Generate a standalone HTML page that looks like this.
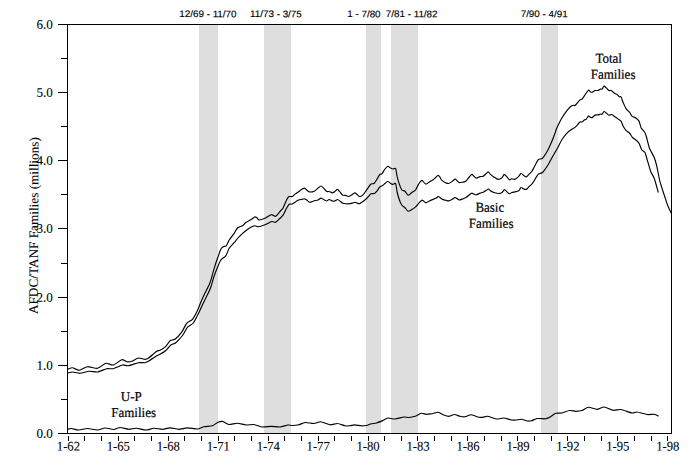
<!DOCTYPE html>
<html><head><meta charset="utf-8"><title>AFDC/TANF Families</title>
<style>
html,body{margin:0;padding:0;background:#fff;}
body{width:696px;height:468px;overflow:hidden;}
svg{display:block;}
.s{font-family:"Liberation Serif",serif;font-size:13.1px;fill:#000;stroke:#000;stroke-width:0.2px;}
.d{font-family:"Liberation Serif",serif;font-size:13.1px;fill:#000;stroke:#000;stroke-width:0.08px;}
.a{font-family:"Liberation Sans",sans-serif;font-size:10px;fill:#000;stroke:#000;stroke-width:0.15px;}
</style></head><body>
<svg width="696" height="468" viewBox="0 0 696 468">
<rect x="0" y="0" width="696" height="468" fill="#fff"/>
<rect x="199" y="25" width="19" height="408" fill="#dedede" shape-rendering="crispEdges"/>
<rect x="264" y="25" width="27" height="408" fill="#dedede" shape-rendering="crispEdges"/>
<rect x="366" y="25" width="15" height="408" fill="#dedede" shape-rendering="crispEdges"/>
<rect x="391" y="25" width="27" height="408" fill="#dedede" shape-rendering="crispEdges"/>
<rect x="541" y="25" width="17" height="408" fill="#dedede" shape-rendering="crispEdges"/>
<g fill="#000" shape-rendering="crispEdges">
<rect x="67" y="24" width="605" height="1"/><rect x="67" y="433" width="605" height="1"/>
<rect x="67" y="24" width="1" height="410"/><rect x="671" y="24" width="1" height="410"/>
<rect x="58" y="433" width="9" height="1"/>
<rect x="61" y="399" width="6" height="1"/>
<rect x="58" y="365" width="9" height="1"/>
<rect x="61" y="331" width="6" height="1"/>
<rect x="58" y="297" width="9" height="1"/>
<rect x="61" y="263" width="6" height="1"/>
<rect x="58" y="228" width="9" height="1"/>
<rect x="61" y="194" width="6" height="1"/>
<rect x="58" y="160" width="9" height="1"/>
<rect x="61" y="126" width="6" height="1"/>
<rect x="58" y="92" width="9" height="1"/>
<rect x="61" y="58" width="6" height="1"/>
<rect x="58" y="24" width="9" height="1"/>
<rect x="68" y="436" width="1" height="5"/>
<rect x="84" y="436" width="1" height="5"/>
<rect x="101" y="436" width="1" height="5"/>
<rect x="118" y="436" width="1" height="5"/>
<rect x="134" y="436" width="1" height="5"/>
<rect x="151" y="436" width="1" height="5"/>
<rect x="168" y="436" width="1" height="5"/>
<rect x="184" y="436" width="1" height="5"/>
<rect x="201" y="436" width="1" height="5"/>
<rect x="218" y="436" width="1" height="5"/>
<rect x="234" y="436" width="1" height="5"/>
<rect x="251" y="436" width="1" height="5"/>
<rect x="268" y="436" width="1" height="5"/>
<rect x="284" y="436" width="1" height="5"/>
<rect x="301" y="436" width="1" height="5"/>
<rect x="318" y="436" width="1" height="5"/>
<rect x="334" y="436" width="1" height="5"/>
<rect x="351" y="436" width="1" height="5"/>
<rect x="368" y="436" width="1" height="5"/>
<rect x="384" y="436" width="1" height="5"/>
<rect x="401" y="436" width="1" height="5"/>
<rect x="417" y="436" width="1" height="5"/>
<rect x="434" y="436" width="1" height="5"/>
<rect x="451" y="436" width="1" height="5"/>
<rect x="467" y="436" width="1" height="5"/>
<rect x="484" y="436" width="1" height="5"/>
<rect x="501" y="436" width="1" height="5"/>
<rect x="517" y="436" width="1" height="5"/>
<rect x="534" y="436" width="1" height="5"/>
<rect x="551" y="436" width="1" height="5"/>
<rect x="567" y="436" width="1" height="5"/>
<rect x="584" y="436" width="1" height="5"/>
<rect x="601" y="436" width="1" height="5"/>
<rect x="617" y="436" width="1" height="5"/>
<rect x="634" y="436" width="1" height="5"/>
<rect x="651" y="436" width="1" height="5"/>
<rect x="667" y="436" width="1" height="5"/>
</g>
<text class="d" transform="translate(52.80,437.90) rotate(0.25) scale(1.0,1.0)" text-anchor="end">0.0</text>
<text class="d" transform="translate(52.80,369.90) rotate(0.25) scale(1.0,1.0)" text-anchor="end">1.0</text>
<text class="d" transform="translate(52.80,301.90) rotate(0.25) scale(1.0,1.0)" text-anchor="end">2.0</text>
<text class="d" transform="translate(52.80,232.90) rotate(0.25) scale(1.0,1.0)" text-anchor="end">3.0</text>
<text class="d" transform="translate(52.80,164.90) rotate(0.25) scale(1.0,1.0)" text-anchor="end">4.0</text>
<text class="d" transform="translate(52.80,96.90) rotate(0.25) scale(1.0,1.0)" text-anchor="end">5.0</text>
<text class="d" transform="translate(52.80,28.90) rotate(0.25) scale(1.0,1.0)" text-anchor="end">6.0</text>
<text class="d" transform="translate(68.40,450.60) rotate(0.25) scale(0.965,1.0)" text-anchor="middle">1-62</text>
<text class="d" transform="translate(118.35,450.60) rotate(0.25) scale(0.965,1.0)" text-anchor="middle">1-65</text>
<text class="d" transform="translate(168.30,450.60) rotate(0.25) scale(0.965,1.0)" text-anchor="middle">1-68</text>
<text class="d" transform="translate(218.25,450.60) rotate(0.25) scale(0.965,1.0)" text-anchor="middle">1-71</text>
<text class="d" transform="translate(268.20,450.60) rotate(0.25) scale(0.965,1.0)" text-anchor="middle">1-74</text>
<text class="d" transform="translate(318.15,450.60) rotate(0.25) scale(0.965,1.0)" text-anchor="middle">1-77</text>
<text class="d" transform="translate(368.10,450.60) rotate(0.25) scale(0.965,1.0)" text-anchor="middle">1-80</text>
<text class="d" transform="translate(418.05,450.60) rotate(0.25) scale(0.965,1.0)" text-anchor="middle">1-83</text>
<text class="d" transform="translate(468.00,450.60) rotate(0.25) scale(0.965,1.0)" text-anchor="middle">1-86</text>
<text class="d" transform="translate(517.95,450.60) rotate(0.25) scale(0.965,1.0)" text-anchor="middle">1-89</text>
<text class="d" transform="translate(567.90,450.60) rotate(0.25) scale(0.965,1.0)" text-anchor="middle">1-92</text>
<text class="d" transform="translate(617.85,450.60) rotate(0.25) scale(0.965,1.0)" text-anchor="middle">1-95</text>
<text class="d" transform="translate(667.80,450.60) rotate(0.25) scale(0.965,1.0)" text-anchor="middle">1-98</text>
<text class="a" transform="translate(207.90,17.15) rotate(0.2) scale(0.985,0.95)" text-anchor="middle">12/69 - 11/70</text>
<text class="a" transform="translate(275.90,17.15) rotate(0.2) scale(0.985,0.95)" text-anchor="middle">11/73 - 3/75</text>
<text class="a" transform="translate(363.90,17.15) rotate(0.2) scale(0.985,0.95)" text-anchor="middle">1 - 7/80</text>
<text class="a" transform="translate(411.65,17.15) rotate(0.2) scale(0.985,0.95)" text-anchor="middle">7/81 - 11/82</text>
<text class="a" transform="translate(544.15,17.15) rotate(0.2) scale(0.985,0.95)" text-anchor="middle">7/90 - 4/91</text>
<text class="d" transform="translate(38.10,225.60) rotate(-89.75) scale(1.012,1.0)" text-anchor="middle">AFDC/TANF Families (millions)</text>
<text class="s" transform="translate(608.65,62.80) rotate(0.25) scale(0.99,1.04)" text-anchor="middle">Total</text>
<text class="s" transform="translate(613.10,78.80) rotate(0.25) scale(0.99,1.04)" text-anchor="middle">Families</text>
<text class="s" transform="translate(489.80,211.70) rotate(0.25) scale(0.99,1.04)" text-anchor="middle">Basic</text>
<text class="s" transform="translate(491.10,227.80) rotate(0.25) scale(0.99,1.04)" text-anchor="middle">Families</text>
<text class="s" transform="translate(131.25,401.00) rotate(0.25) scale(0.99,1.04)" text-anchor="middle">U-P</text>
<text class="s" transform="translate(133.62,417.00) rotate(0.25) scale(0.99,1.04)" text-anchor="middle">Families</text>
<g fill="none" stroke="#000" stroke-width="1.15" stroke-linejoin="round" stroke-linecap="butt">
<path d="M68.0,369.2C68.5,369.0 71.2,367.7 72.5,367.8C73.8,367.9 77.5,370.4 79.2,370.3C81.0,370.2 85.4,366.9 87.5,366.7C89.6,366.5 95.4,368.7 97.5,368.3C99.6,367.9 104.0,363.7 105.8,363.3C107.6,362.9 111.4,365.4 113.3,365.0C115.2,364.6 120.1,360.1 121.7,359.7C123.3,359.3 125.5,361.5 126.7,361.7C127.9,361.9 130.3,361.7 131.7,361.3C133.1,360.9 136.7,358.2 138.3,358.0C139.9,357.8 143.8,359.3 145.0,359.3C146.2,359.3 146.9,359.2 148.3,358.3C149.7,357.4 155.3,352.2 156.7,351.3C158.1,350.4 158.9,350.9 160.0,350.3C161.1,349.7 164.6,347.4 165.8,346.3C167.0,345.2 169.2,341.3 170.3,340.5C171.4,339.7 173.7,340.3 175.0,339.3C176.3,338.3 180.3,334.1 181.7,332.2C183.1,330.3 185.4,324.8 186.7,323.3C188.0,321.8 191.2,320.8 192.5,319.3C193.8,317.8 196.5,312.5 197.5,310.5C198.5,308.5 199.9,304.2 200.8,302.2C201.7,300.2 204.0,295.0 205.0,293.0C206.0,291.0 208.4,286.4 209.2,284.7C210.0,282.9 210.9,279.9 211.5,278.0C212.1,276.1 213.5,270.6 214.2,268.3C214.9,266.0 216.7,260.5 217.5,258.3C218.3,256.1 220.1,250.6 220.8,249.2C221.5,247.8 222.7,247.1 223.3,246.7C223.9,246.3 225.6,246.6 226.3,245.8C227.0,245.0 228.3,241.5 229.2,240.0C230.1,238.5 233.2,234.7 234.2,233.3C235.2,231.9 236.5,228.9 237.5,228.0C238.5,227.1 241.5,226.4 242.5,225.8C243.5,225.2 244.8,223.2 245.8,222.5C246.8,221.8 249.8,220.3 250.8,219.7C251.8,219.1 254.0,217.3 254.7,217.0C255.4,216.7 256.2,217.2 256.7,217.5C257.2,217.8 258.2,219.9 259.2,220.0C260.2,220.1 263.6,218.9 265.0,218.3C266.4,217.7 270.0,214.9 271.3,214.7C272.6,214.5 274.7,216.8 275.8,216.3C276.9,215.8 280.0,211.4 280.8,210.5C281.6,209.6 282.4,209.3 283.0,208.2C283.6,207.1 285.4,202.3 286.1,201.0C286.8,199.7 287.9,197.2 288.6,196.7C289.3,196.2 291.6,196.8 292.4,196.5C293.2,196.2 294.8,194.2 295.5,193.8C296.2,193.3 297.3,192.7 298.0,192.2C298.7,191.8 300.4,190.2 301.1,189.8C301.8,189.3 303.6,188.1 304.2,188.1C304.9,188.1 306.2,189.6 306.8,190.0C307.3,190.4 308.4,191.8 309.2,191.9C310.1,192.0 313.2,191.7 314.2,191.2C315.3,190.8 317.2,188.7 318.0,188.1C318.8,187.5 320.4,186.0 321.1,186.0C321.8,186.0 322.9,187.5 323.6,188.1C324.3,188.7 326.1,191.1 326.8,191.5C327.4,191.9 328.6,191.3 329.2,191.5C329.9,191.7 331.7,192.9 332.4,192.9C333.1,192.9 334.3,191.9 334.9,191.5C335.5,191.1 336.8,189.4 337.4,189.4C338.0,189.4 339.3,191.2 339.9,191.9C340.5,192.6 341.7,194.6 342.4,195.0C343.1,195.4 344.8,195.2 345.5,195.4C346.2,195.6 347.9,196.6 348.6,196.5C349.3,196.4 351.0,195.2 351.8,194.8C352.5,194.3 354.2,192.9 354.9,192.9C355.6,192.9 356.9,194.3 357.4,194.8C357.9,195.2 358.9,196.4 359.5,196.5C360.1,196.6 361.8,195.9 362.4,195.4C363.0,194.9 364.2,193.4 364.9,192.5C365.6,191.6 367.4,188.7 368.1,187.8C368.8,186.8 370.3,184.5 371.0,184.0C371.7,183.5 373.3,184.0 374.0,183.5C374.7,183.0 376.2,180.5 376.9,179.4C377.6,178.3 379.2,175.1 379.8,174.4C380.3,173.7 381.3,174.4 381.9,173.8C382.5,173.1 384.3,169.9 385.0,169.0C385.7,168.1 387.1,166.4 387.8,166.2C388.4,166.1 390.0,167.8 390.6,168.1C391.2,168.4 392.5,169.0 393.1,169.0C393.7,169.0 395.1,167.6 395.6,168.5C396.1,169.4 396.8,175.0 397.2,176.9C397.7,178.8 398.9,182.9 399.4,184.4C399.9,185.9 401.3,189.2 401.9,190.0C402.5,190.8 404.0,190.4 404.8,191.0C405.5,191.6 407.3,195.1 408.1,195.2C408.9,195.4 411.0,193.1 411.9,192.5C412.8,191.9 414.8,190.8 415.6,189.8C416.4,188.7 418.0,184.8 418.8,183.8C419.5,182.7 421.3,180.6 421.9,180.4C422.5,180.2 423.3,181.8 423.8,182.2C424.2,182.7 425.3,184.1 426.0,184.1C426.7,184.1 428.6,182.4 429.4,181.9C430.2,181.4 432.4,180.3 433.1,179.8C433.8,179.2 435.0,178.0 435.6,177.5C436.2,177.0 437.6,175.4 438.1,175.4C438.6,175.4 439.6,176.7 440.0,177.2C440.4,177.8 441.2,179.8 441.9,180.4C442.6,181.0 444.8,182.4 445.6,182.8C446.4,183.1 447.9,183.7 448.8,183.5C449.6,183.3 451.9,181.5 452.6,181.0C453.3,180.5 454.6,179.1 455.1,179.1C455.6,179.1 456.6,180.2 457.0,180.6C457.4,181.0 458.3,182.3 458.9,182.5C459.5,182.7 461.2,182.4 462.0,182.2C462.8,182.1 464.9,181.8 465.8,181.2C466.6,180.7 468.2,178.3 468.9,177.5C469.6,176.7 471.2,174.5 471.8,174.4C472.3,174.3 473.4,175.8 473.9,176.2C474.4,176.7 475.7,178.1 476.4,178.1C477.1,178.1 479.3,176.8 480.1,176.6C480.9,176.4 482.6,176.6 483.2,176.2C483.9,175.9 485.4,174.3 486.0,173.8C486.6,173.2 487.7,171.8 488.2,171.9C488.8,172.0 489.8,173.8 490.5,174.4C491.2,175.0 493.0,176.3 493.9,176.9C494.8,177.5 497.3,179.3 498.2,179.4C499.2,179.5 501.3,178.3 502.0,177.8C502.7,177.2 503.7,174.5 504.2,174.4C504.8,174.3 506.4,176.2 507.0,176.9C507.6,177.6 509.0,179.8 509.5,180.0C510.0,180.2 510.8,178.8 511.4,178.8C512.0,178.7 513.7,179.6 514.5,179.4C515.3,179.2 517.5,177.6 518.2,176.9C519.0,176.2 520.3,173.7 521.0,173.5C521.7,173.3 523.3,175.2 523.9,175.6C524.5,176.0 525.7,177.1 526.4,176.9C527.1,176.7 528.8,174.4 529.5,173.8C530.2,173.1 531.5,172.0 532.0,171.2C532.5,170.5 533.3,168.8 534.0,167.5C534.7,166.2 537.3,160.8 538.3,159.7C539.3,158.6 541.4,159.3 542.5,158.3C543.6,157.3 546.4,152.7 547.5,150.8C548.6,148.9 550.8,143.7 551.7,141.7C552.6,139.7 554.4,134.9 555.0,133.3C555.6,131.7 555.9,130.1 556.7,128.3C557.5,126.6 560.5,120.3 561.7,118.3C562.9,116.3 565.5,112.3 566.7,110.8C567.9,109.3 570.8,106.4 571.7,105.8C572.6,105.2 573.8,105.3 574.2,105.3C574.6,105.3 574.3,106.1 575.0,105.5C575.7,104.9 579.2,100.6 580.0,99.9C580.8,99.2 581.3,99.8 581.9,99.2C582.5,98.7 584.2,96.0 585.0,94.9C585.8,93.9 587.8,90.6 588.5,90.2C589.2,89.9 590.1,91.8 590.6,92.0C591.1,92.2 592.0,92.3 592.5,92.1C593.0,91.9 594.3,90.7 595.0,90.5C595.7,90.3 597.4,90.7 598.1,90.5C598.8,90.3 600.1,89.2 600.6,89.0C601.1,88.8 601.9,89.3 602.2,89.0C602.6,88.7 603.5,86.2 604.0,86.1C604.5,86.0 605.7,87.2 606.2,87.8C606.8,88.3 608.2,90.2 608.8,90.5C609.3,90.8 610.5,90.1 611.2,90.5C612.0,90.9 614.3,93.2 615.0,93.6C615.7,94.0 616.4,93.9 616.9,94.2C617.4,94.6 618.9,96.5 619.4,96.8C619.9,97.0 620.6,96.1 621.0,96.8C621.4,97.4 622.5,101.0 623.1,102.4C623.7,103.8 625.2,107.4 626.0,108.6C626.8,109.8 629.3,111.9 630.0,112.8C630.7,113.6 631.2,115.5 631.9,116.1C632.6,116.7 635.4,117.7 636.2,118.2C637.1,118.8 638.4,120.0 639.0,121.1C639.6,122.2 640.6,126.8 641.2,128.0C641.9,129.2 643.8,130.8 644.4,131.8C645.0,132.7 645.7,134.2 646.2,136.0C646.8,137.8 648.3,145.0 649.2,147.5C650.1,150.0 653.3,155.4 654.2,157.5C655.1,159.6 656.0,163.0 656.7,165.8C657.4,168.6 659.1,178.3 660.0,181.7C660.9,185.1 663.3,192.3 664.2,195.0C665.1,197.7 666.7,202.9 667.5,205.0C668.3,207.1 670.9,212.3 671.3,213.3"/>
<path d="M68.0,373.0C68.5,372.9 71.1,372.0 72.5,372.0C73.9,372.0 78.1,373.4 80.0,373.3C81.9,373.2 87.2,371.5 89.2,371.3C91.2,371.1 95.5,372.3 97.5,372.0C99.5,371.7 104.9,369.1 106.7,368.7C108.5,368.3 111.5,369.1 113.3,368.7C115.1,368.3 120.8,365.4 122.5,365.0C124.2,364.6 126.5,366.0 128.3,365.7C130.1,365.4 136.4,363.1 138.3,362.7C140.2,362.3 143.6,363.0 145.0,362.7C146.4,362.4 148.6,361.1 150.0,360.3C151.4,359.5 155.5,356.5 156.7,355.8C157.9,355.1 158.9,354.9 160.0,354.3C161.1,353.7 164.5,351.6 165.8,350.5C167.1,349.4 169.6,345.9 170.8,345.0C172.0,344.1 174.4,343.8 175.8,342.7C177.2,341.6 181.1,337.3 182.5,335.5C183.9,333.7 186.2,328.7 187.5,327.2C188.8,325.7 192.0,324.6 193.3,323.0C194.6,321.4 197.2,315.9 198.3,313.8C199.4,311.7 201.5,306.7 202.5,304.7C203.5,302.7 205.7,298.3 206.7,296.3C207.7,294.3 210.0,289.3 210.8,287.2C211.6,285.1 212.8,280.1 213.5,278.0C214.2,275.9 215.8,271.3 216.7,269.2C217.6,267.1 219.7,261.6 220.8,260.0C221.9,258.4 224.8,257.2 225.8,255.8C226.8,254.4 228.2,249.9 229.2,248.3C230.2,246.7 233.0,243.9 234.2,242.5C235.4,241.1 237.7,238.2 239.2,236.7C240.7,235.2 244.9,231.3 246.7,230.0C248.4,228.7 252.8,226.2 254.2,225.8C255.6,225.4 257.0,226.8 258.3,226.7C259.6,226.6 263.4,225.3 265.0,224.7C266.6,224.1 270.5,221.8 271.7,221.5C272.9,221.2 274.6,222.6 275.5,222.3C276.4,222.0 278.7,219.6 279.6,218.8C280.5,218.0 282.2,216.3 283.0,215.2C283.8,214.1 285.4,210.3 286.1,209.0C286.8,207.7 288.5,204.8 289.2,204.2C290.0,203.6 291.7,204.3 292.4,204.0C293.1,203.7 294.8,202.3 295.5,201.9C296.2,201.5 297.3,200.5 298.0,200.2C298.7,200.0 300.3,199.7 301.1,199.5C301.9,199.3 303.8,198.7 304.5,198.8C305.2,198.8 306.2,199.6 306.8,200.0C307.3,200.4 308.7,202.1 309.5,202.2C310.3,202.4 312.6,201.3 313.6,201.0C314.6,200.7 317.1,200.3 318.0,200.0C318.9,199.7 320.4,198.1 321.1,198.1C321.8,198.1 323.6,199.4 324.2,199.8C324.9,200.1 326.2,201.0 326.8,201.0C327.3,201.0 328.3,199.5 329.0,199.5C329.7,199.5 332.2,201.1 333.0,201.2C333.8,201.4 335.0,200.8 335.5,200.6C336.0,200.4 337.0,199.4 337.6,199.5C338.2,199.6 339.9,201.1 340.5,201.5C341.1,201.9 342.1,203.0 343.0,203.2C343.9,203.5 347.5,203.8 348.6,203.8C349.7,203.7 351.6,203.3 352.4,203.1C353.2,202.9 354.5,202.2 355.2,202.2C356.0,202.3 358.3,203.8 359.2,203.8C360.2,203.7 362.3,202.0 363.0,201.5C363.7,201.0 364.9,200.0 365.5,199.5C366.1,199.0 367.5,197.6 368.1,196.9C368.7,196.2 370.3,194.1 371.0,193.8C371.7,193.4 373.7,193.8 374.4,193.5C375.1,193.2 376.3,192.0 376.9,191.2C377.5,190.5 379.1,187.6 379.8,186.9C380.4,186.2 381.9,186.0 382.5,185.6C383.1,185.2 384.4,184.0 385.0,183.5C385.6,183.0 387.1,181.2 387.8,181.2C388.4,181.2 390.0,183.1 390.6,183.5C391.2,183.9 392.5,184.4 393.1,184.4C393.7,184.4 395.1,182.6 395.6,183.5C396.1,184.4 396.8,190.6 397.2,192.5C397.7,194.4 398.9,198.5 399.4,200.0C399.9,201.5 401.3,204.4 401.9,205.2C402.5,206.1 404.0,206.8 404.8,207.5C405.5,208.2 407.3,211.0 408.1,211.2C408.9,211.5 411.0,209.9 411.9,209.4C412.8,208.9 414.8,207.6 415.6,206.9C416.4,206.2 418.0,203.9 418.8,203.1C419.5,202.3 421.3,200.5 421.9,200.2C422.5,200.0 423.3,201.0 423.8,201.2C424.2,201.5 425.3,202.8 426.0,202.8C426.7,202.7 428.6,201.4 429.4,201.0C430.2,200.6 432.3,199.7 433.1,199.4C433.9,199.1 435.7,198.4 436.2,198.1C436.8,197.8 437.7,196.6 438.1,196.5C438.5,196.4 439.5,197.2 440.0,197.5C440.5,197.8 441.8,199.1 442.5,199.4C443.2,199.7 444.9,200.1 445.6,200.2C446.3,200.4 447.9,201.0 448.8,200.9C449.6,200.8 451.9,199.4 452.6,199.0C453.3,198.6 454.6,197.6 455.1,197.5C455.6,197.4 456.5,198.2 457.0,198.5C457.5,198.8 458.6,199.9 459.2,200.0C459.9,200.1 461.8,199.3 462.6,199.0C463.4,198.7 465.0,197.9 465.8,197.5C466.5,197.1 468.2,195.8 468.9,195.2C469.6,194.7 471.2,193.2 471.8,193.1C472.3,193.0 473.4,193.8 473.9,194.0C474.4,194.2 475.7,194.9 476.4,194.8C477.1,194.6 479.3,193.4 480.1,193.1C480.9,192.8 482.6,192.5 483.2,192.2C483.9,192.0 485.4,191.0 486.0,190.6C486.6,190.2 487.9,189.0 488.5,189.0C489.1,189.0 490.1,190.6 490.8,191.0C491.4,191.4 492.9,192.2 493.9,192.5C494.9,192.8 498.0,193.5 498.9,193.5C499.8,193.5 501.3,193.0 502.0,192.5C502.7,192.0 503.9,189.7 504.5,189.6C505.1,189.5 506.4,191.4 507.0,191.9C507.6,192.4 508.9,193.7 509.5,193.8C510.1,193.8 511.3,192.7 512.0,192.5C512.7,192.3 514.3,192.1 515.1,191.9C515.9,191.7 518.2,191.1 518.9,190.6C519.6,190.1 520.4,187.7 521.0,187.5C521.6,187.3 523.3,188.8 523.9,189.0C524.5,189.2 525.7,189.7 526.4,189.4C527.1,189.1 528.8,186.9 529.5,186.2C530.2,185.6 531.5,184.4 532.0,183.8C532.5,183.1 533.3,182.1 534.0,181.0C534.7,179.9 537.3,175.2 538.3,174.2C539.3,173.2 541.4,173.5 542.5,172.5C543.6,171.5 546.3,167.6 547.5,165.8C548.7,164.0 551.3,158.8 552.5,156.7C553.7,154.6 556.4,150.1 557.5,148.2C558.6,146.3 560.6,141.7 561.7,140.0C562.8,138.3 565.5,134.6 566.7,133.3C567.9,132.0 570.7,129.9 571.7,129.2C572.7,128.5 574.0,128.2 575.0,127.4C576.0,126.6 579.2,122.6 580.0,122.0C580.8,121.4 581.4,122.2 581.9,122.0C582.4,121.8 583.9,120.2 584.4,119.9C584.9,119.6 585.8,119.7 586.2,119.2C586.7,118.8 588.0,116.3 588.5,116.1C589.0,115.9 590.1,117.2 590.6,117.4C591.1,117.6 592.0,117.7 592.5,117.4C593.0,117.1 594.3,115.4 595.0,115.1C595.7,114.8 597.4,115.0 598.1,114.9C598.8,114.8 600.1,114.1 600.6,114.0C601.1,113.9 601.9,114.5 602.2,114.2C602.6,114.0 603.5,111.6 604.0,111.5C604.5,111.4 605.7,112.6 606.2,113.0C606.8,113.4 608.4,115.1 609.0,115.2C609.6,115.4 610.8,114.3 611.5,114.5C612.2,114.7 614.3,116.3 615.0,116.8C615.7,117.2 616.8,118.1 617.5,118.6C618.2,119.1 620.3,120.2 621.0,121.1C621.7,122.0 622.6,125.1 623.1,126.1C623.6,127.1 624.9,129.1 625.6,129.9C626.3,130.7 628.7,132.3 629.4,133.0C630.1,133.7 630.9,135.0 631.2,135.5C631.6,136.0 631.9,136.9 632.5,137.5C633.1,138.1 635.7,139.8 636.5,140.5C637.3,141.2 638.6,142.4 639.2,143.5C639.8,144.6 641.0,148.6 641.7,149.7C642.4,150.8 644.3,151.2 645.0,152.5C645.7,153.8 646.8,158.6 647.5,160.8C648.2,163.0 650.0,169.7 650.8,171.7C651.6,173.7 653.3,175.9 654.2,178.3C655.1,180.7 657.8,190.8 658.3,192.5"/>
<path d="M68.0,429.3C68.4,429.2 70.0,428.4 71.3,428.5C72.6,428.6 76.9,430.0 78.8,430.0C80.7,430.0 85.3,428.5 87.5,428.5C89.7,428.5 95.5,430.1 97.5,430.0C99.5,429.9 103.1,428.1 105.0,428.0C106.9,427.9 112.0,429.6 113.8,429.5C115.5,429.4 118.2,427.5 120.0,427.5C121.8,427.5 126.9,429.2 128.8,429.3C130.7,429.4 134.3,428.2 136.3,428.3C138.3,428.4 144.3,430.0 146.3,430.0C148.3,430.0 151.9,428.4 153.8,428.3C155.7,428.2 160.6,429.4 162.5,429.3C164.4,429.2 168.1,427.8 170.0,427.8C171.9,427.8 176.8,429.3 178.8,429.3C180.8,429.3 185.3,427.8 187.5,427.8C189.7,427.8 195.6,429.1 197.5,429.0C199.4,428.9 202.1,427.2 203.8,426.8C205.6,426.4 210.9,426.3 212.5,425.8C214.1,425.3 216.3,423.0 217.5,422.5C218.7,422.0 221.2,421.2 222.5,421.4C223.8,421.6 227.1,424.3 228.8,424.5C230.6,424.7 235.5,423.2 237.5,423.3C239.5,423.4 244.4,424.9 246.3,425.0C248.2,425.1 251.9,424.3 253.8,424.5C255.7,424.7 260.5,426.8 262.5,427.0C264.5,427.2 269.3,426.3 271.3,426.3C273.3,426.3 278.1,427.2 280.0,427.0C281.9,426.8 286.5,425.2 288.0,425.0C289.5,424.8 291.2,425.5 292.5,425.5C293.8,425.5 297.3,425.2 298.8,424.8C300.3,424.4 303.2,422.7 305.0,422.5C306.8,422.3 312.0,423.6 313.8,423.5C315.6,423.4 318.9,421.6 320.8,421.8C322.7,422.0 328.1,424.6 330.0,424.8C331.9,425.0 335.8,423.4 337.5,423.5C339.2,423.6 343.5,425.5 345.0,425.8C346.5,426.1 348.9,425.9 350.0,425.8C351.1,425.7 353.2,424.8 354.5,424.8C355.8,424.8 359.9,425.7 361.3,425.8C362.7,425.9 365.1,425.7 366.3,425.5C367.5,425.3 370.1,424.1 371.3,423.8C372.5,423.5 375.0,423.4 376.3,423.0C377.6,422.6 381.3,421.2 382.7,420.6C384.1,420.0 386.6,418.2 388.0,418.0C389.4,417.8 393.2,419.1 395.0,419.0C396.8,418.9 402.2,417.2 403.8,417.0C405.4,416.8 407.5,417.6 408.8,417.5C410.1,417.4 413.5,416.8 415.0,416.3C416.5,415.8 420.0,413.5 421.3,413.3C422.6,413.1 425.1,414.2 426.3,414.3C427.5,414.4 429.9,414.0 431.3,413.8C432.7,413.6 436.5,412.2 438.0,412.3C439.5,412.4 442.5,414.5 443.8,415.0C445.1,415.5 447.6,416.4 448.8,416.3C450.0,416.2 453.0,414.5 454.3,414.5C455.6,414.5 458.8,416.0 460.0,416.3C461.2,416.6 463.7,417.0 465.0,416.8C466.3,416.6 469.7,414.7 471.3,414.8C472.9,414.9 477.4,417.0 478.8,417.3C480.2,417.6 482.0,417.4 483.0,417.3C484.0,417.2 485.9,416.1 487.5,416.3C489.1,416.5 494.4,418.8 496.3,419.0C498.2,419.2 502.1,417.9 503.8,418.0C505.6,418.1 509.8,419.8 511.3,420.0C512.8,420.2 515.1,420.1 516.3,420.0C517.5,419.9 520.2,419.2 521.5,419.3C522.8,419.4 526.1,420.8 527.3,421.0C528.5,421.2 530.2,421.1 531.4,420.8C532.6,420.5 535.6,418.7 537.2,418.5C538.8,418.3 544.1,418.9 545.5,418.8C546.9,418.7 548.0,418.1 549.2,417.5C550.4,416.9 554.3,413.8 555.8,413.3C557.3,412.8 560.4,413.3 562.0,413.0C563.6,412.7 567.9,410.7 569.5,410.5C571.1,410.3 574.3,411.3 575.8,411.3C577.3,411.3 580.5,411.0 582.0,410.5C583.5,410.0 586.5,407.4 588.3,407.3C590.0,407.2 595.2,409.3 597.0,409.3C598.8,409.3 602.1,406.9 604.0,407.0C605.9,407.1 611.3,410.0 613.3,410.3C615.3,410.6 618.6,409.2 620.8,409.5C623.0,409.8 630.1,412.7 632.0,413.0C633.9,413.3 635.2,411.8 637.0,412.0C638.8,412.2 645.0,414.2 647.0,414.5C649.0,414.8 653.2,414.1 654.5,414.3C655.8,414.5 658.0,416.1 658.5,416.3"/>
</g>
</svg>
</body></html>
